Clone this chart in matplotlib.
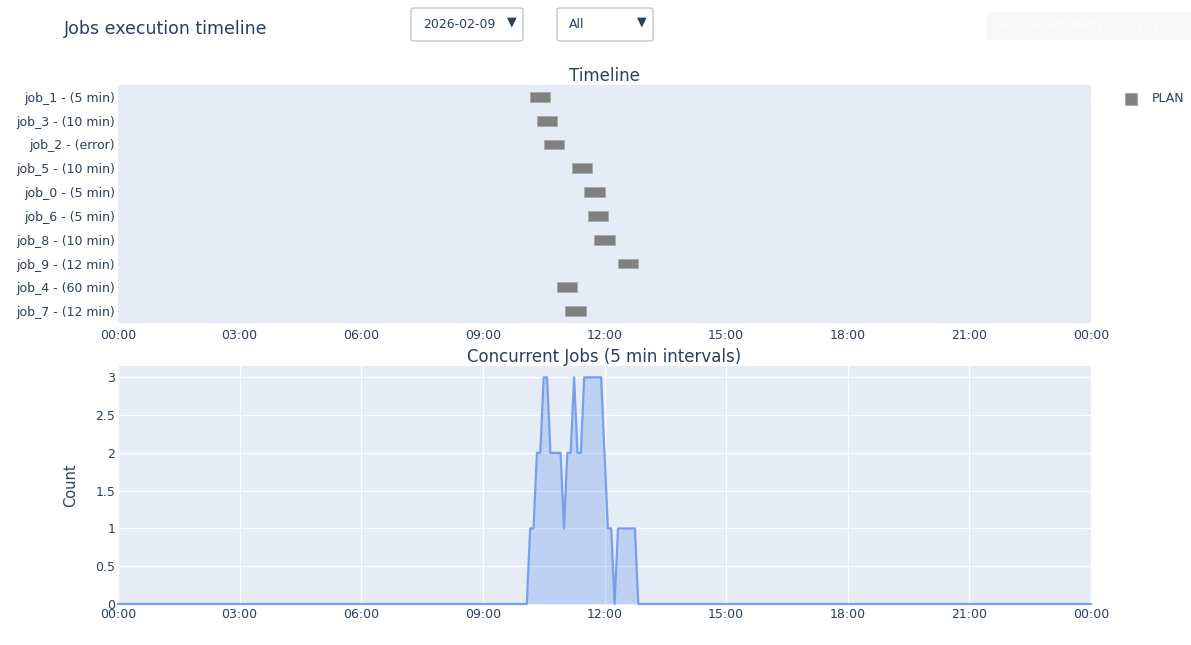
import matplotlib
matplotlib.use("Agg")
import matplotlib.pyplot as plt
from matplotlib.patches import Rectangle, FancyBboxPatch
from matplotlib.ticker import FixedLocator

# ---------------- data ----------------
job_labels = ["job_1 - (5 min)", "job_3 - (10 min)", "job_2 - (error)", "job_5 - (10 min)",
              "job_0 - (5 min)", "job_6 - (5 min)", "job_8 - (10 min)", "job_9 - (12 min)",
              "job_4 - (60 min)", "job_7 - (12 min)"]
job_start = ["10:10", "10:20", "10:30", "11:12", "11:30", "11:35", "11:45", "12:20", "10:50", "11:02"]
job_end = ["10:40", "10:50", "11:00", "11:42", "12:00", "12:05", "12:15", "12:50", "11:20", "11:32"]

conc_times = ["00:00", "10:05", "10:10", "10:15", "10:20", "10:25", "10:30", "10:35", "10:40",
              "10:45", "10:50", "10:55", "11:00", "11:05", "11:10", "11:15", "11:20", "11:25",
              "11:30", "11:35", "11:40", "11:45", "11:50", "11:55", "12:00", "12:05", "12:10",
              "12:15", "12:20", "12:25", "12:30", "12:35", "12:40", "12:45", "12:50", "24:00"]
conc_counts = [0, 0, 1, 1, 2, 2, 3, 3, 2,
               2, 2, 2, 1, 2, 2, 3, 2, 2,
               3, 3, 3, 3, 3, 3, 2, 1, 1,
               0, 1, 1, 1, 1, 1, 1, 0, 0]

x_tick_labels = ["00:00", "03:00", "06:00", "09:00", "12:00", "15:00", "18:00", "21:00", "00:00"]
y_tick_labels_conc = ["0", "0.5", "1", "1.5", "2", "2.5", "3"]


def to_h(s):
    h, m = s.split(":")
    return int(h) + int(m) / 60.0


# ---------------- figure ----------------
W, H = 1191, 645
fig = plt.figure(figsize=(W / 100, H / 100), dpi=100)
plt.rcParams['font.family'] = ['DejaVu Sans']
TXT = "#2a3f5f"
BG = "#E5ECF6"


def fx(px):
    return px / W


def fy(py):
    return 1 - py / H


def axrect(x0, y0, x1, y1):
    return [fx(x0), fy(y1), fx(x1) - fx(x0), (y1 - y0) / H]


xticks = [0, 3, 6, 9, 12, 15, 18, 21, 24]

# Timeline panel
ax1 = fig.add_axes(axrect(118, 85, 1091, 323))
ax1.set_facecolor(BG)
n = len(job_labels)
ypos = list(range(n))
starts = [to_h(s) for s in job_start]
widths = [to_h(e) - to_h(s) for s, e in zip(job_start, job_end)]
ax1.barh(ypos, widths, left=starts, height=0.42, color="#808080",
         edgecolor="#a8a8a8", linewidth=0.6, zorder=3)
ax1.set_ylim(n - 0.5, -0.5)
ax1.set_xlim(0, 24)
ax1.set_yticks(ypos)
ax1.set_yticklabels(job_labels)
ax1.xaxis.set_major_locator(FixedLocator(xticks))
ax1.set_xticklabels(x_tick_labels)
for s in ax1.spines.values():
    s.set_visible(False)
ax1.tick_params(length=0, labelsize=9, labelcolor=TXT, pad=2)
ax1.tick_params(axis='x', pad=4)
ax1.set_title("Timeline", fontsize=12, color=TXT, pad=3)

# Concurrent panel
ax2 = fig.add_axes(axrect(118, 366, 1091, 604))
ax2.set_facecolor(BG)
ct = [to_h(t) for t in conc_times]
ax2.fill_between(ct, conc_counts, 0, color="#6495ED", alpha=0.3, linewidth=0, zorder=2)
ax2.plot(ct, conc_counts, color="#779fee", linewidth=1.6, zorder=3, clip_on=False)
ax2.set_xlim(0, 24)
ax2.set_ylim(0, 3.15)
ax2.xaxis.set_major_locator(FixedLocator(xticks))
ax2.set_xticklabels(x_tick_labels)
yt = [float(v) for v in y_tick_labels_conc]
ax2.yaxis.set_major_locator(FixedLocator(yt))
ax2.set_yticklabels(y_tick_labels_conc)
ax2.grid(True, color="white", linewidth=1.0, zorder=0)
ax2.set_axisbelow(True)
for s in ax2.spines.values():
    s.set_visible(False)
ax2.tick_params(length=0, labelsize=9, labelcolor=TXT, pad=2)
ax2.tick_params(axis='x', pad=3)
ax2.set_title("Concurrent Jobs (5 min intervals)", fontsize=12, color=TXT, pad=3)
ax2.set_ylabel("Count", fontsize=10.5, color=TXT, labelpad=12)

# Main title
fig.text(fx(64), fy(29), "Jobs execution timeline", fontsize=12.5, color=TXT,
         ha="left", va="center")

# Legend
fig.add_artist(Rectangle((fx(1125), fy(105)), fx(12), 12 / H, transform=fig.transFigure,
                         facecolor="#808080", edgecolor="#a8a8a8", linewidth=0.8))
fig.text(fx(1152), fy(99), "PLAN", fontsize=9, color=TXT, ha="left", va="center")

# Dropdown boxes
for (x0, x1, label) in [(411, 523, "2026-02-09"), (557, 653, "All")]:
    fig.add_artist(FancyBboxPatch((fx(x0), fy(41)), fx(x1 - x0), 33 / H,
                                  boxstyle="round,pad=0,rounding_size=0.003",
                                  transform=fig.transFigure, facecolor="white",
                                  edgecolor="#bec8d9", linewidth=1.0))
    fig.text(fx(x0 + 12), fy(24), label, fontsize=9, color=TXT, ha="left", va="center")
    fig.text(fx(x1 - 11), fy(22), "\u25BC", fontsize=9, color=TXT, ha="center", va="center")

# faint watermark
fig.add_artist(FancyBboxPatch((fx(987), fy(40)), fx(204), 28 / H,
                              boxstyle="round,pad=0,rounding_size=0.003",
                              transform=fig.transFigure, facecolor="#f8f8f8",
                              edgecolor="none"))
fig.text(fx(996), fy(26), "Produced with Plotly.js (v2.12.1)", fontsize=7.5, color="white",
         ha="left", va="center")

fig.savefig("out.png", dpi=100)
